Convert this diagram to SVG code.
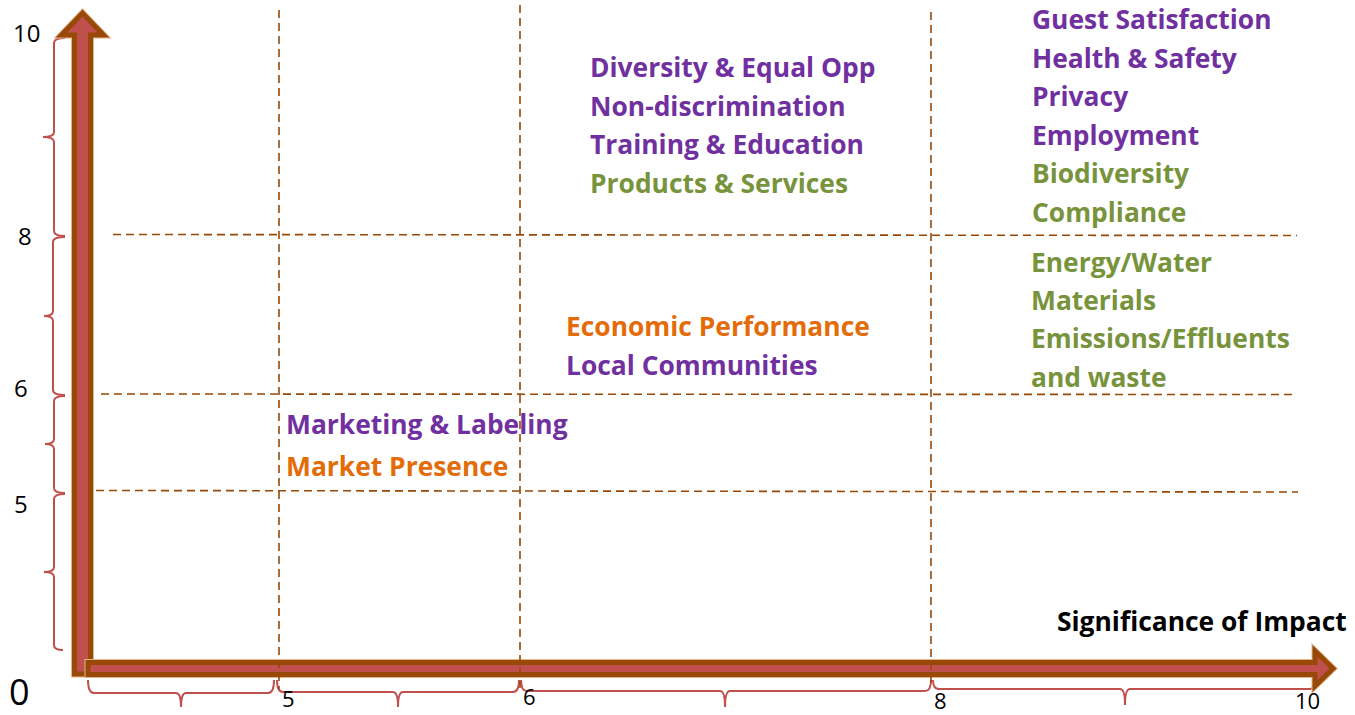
<svg xmlns="http://www.w3.org/2000/svg" width="1355" height="715" viewBox="0 0 1355 715">
<style>
.num{font-family:"Open Sans","Liberation Sans",sans-serif;font-size:24px;fill:#000}
.lbl{font-family:"Open Sans","Liberation Sans",sans-serif;font-weight:700;font-size:26.4px}
.p{fill:#7030A0}.g{fill:#77933C}.o{fill:#E36C09}
.grid{stroke:#984807;stroke-width:1.6;stroke-dasharray:8 5;fill:none}
.brace{stroke:#C0504D;stroke-width:2;fill:none}
.axis{fill:#C0504D;stroke:#984807;stroke-width:5;stroke-linejoin:miter}
.halo{fill:none;stroke:#E2B58C;stroke-width:7;stroke-linejoin:miter}
</style>
<rect width="1355" height="715" fill="#fff"/>
<g id="braces">
<path class="brace" d="M65,38 Q54,38 54,43 L54,132 Q54,137 43,137 Q54,137 54,142 L54,231 Q54,236 65,236"/>
<path class="brace" d="M65,237 Q53,237 53,242 L53,311 Q53,316 44,316 Q53,316 53,321 L53,390 Q53,395 65,395"/>
<path class="brace" d="M65,396 Q54,396 54,401 L54,439 Q54,444 45,444 Q54,444 54,449 L54,488 Q54,493 65,493"/>
<path class="brace" d="M65,494 Q54,494 54,499 L54,567 Q54,572 44,572 Q54,572 54,577 L54,645 Q54,650 63,650"/>
<path class="brace" d="M88,680 Q88,693 94,693 L176,693 Q181,693 181,707 Q181,693 186,693 L268,693 Q274,693 274,680"/>
<path class="brace" d="M277,680 Q277,692 283,692 L393,692 Q398,692 398,707 Q398,692 403,692 L513,692 Q519,692 519,680"/>
<path class="brace" d="M521,680 Q521,691 527,691 L720,691 Q725,691 725,707 Q725,691 730,691 L925,691 Q931,691 931,680"/>
<path class="brace" d="M933,680 Q933,689 939,689 L1120,689 Q1125,689 1125,705 Q1125,689 1130,689 L1310,689 Q1315,689 1315,680"/>
</g>
<g id="axes">
<path class="halo" d="M74.5,674 L74.5,35 L61.5,35 L82.5,13 L103.5,35 L90.5,35 L90.5,674 Z"/>
<path class="axis" d="M74.5,674 L74.5,35 L61.5,35 L82.5,13 L103.5,35 L90.5,35 L90.5,674 Z"/>
<path class="halo" d="M88,662.5 L1315,662.5 L1315,651 L1333,668.5 L1315,686 L1315,674.5 L88,674.5 Z"/>
<path class="axis" d="M88,662.5 L1315,662.5 L1315,651 L1333,668.5 L1315,686 L1315,674.5 L88,674.5 Z"/>
</g>
<g id="connectors">
<line class="grid" x1="279" y1="10" x2="279" y2="689"/>
<line class="grid" x1="520" y1="5" x2="520" y2="688"/>
<line class="grid" x1="931" y1="12" x2="931" y2="688"/>
<line class="grid" x1="113" y1="234.5" x2="1297" y2="235.5"/>
<line class="grid" x1="101" y1="394" x2="1293" y2="394.5"/>
<line class="grid" x1="96" y1="490.5" x2="1298" y2="492"/>
</g>
<g id="ticks">
<text class="num" x="13" y="42">10</text>
<text class="num" x="18" y="245">8</text>
<text class="num" x="14" y="397">6</text>
<text class="num" x="14" y="513">5</text>
<text class="num" x="9" y="705" style="font-size:36px">0</text>
<text class="num" x="282" y="707" style="font-size:22px">5</text>
<text class="num" x="523" y="705" style="font-size:22px">6</text>
<text class="num" x="934" y="709" style="font-size:22px">8</text>
<text class="num" x="1295" y="709" style="font-size:22px">10</text>
</g>
<g id="node-top-middle">
<text class="lbl p" x="590" y="77">Diversity &amp; Equal Opp</text>
<text class="lbl p" x="590" y="116">Non-discrimination</text>
<text class="lbl p" x="590" y="154">Training &amp; Education</text>
<text class="lbl g" x="590" y="193">Products &amp; Services</text>
</g>
<g id="node-top-right">
<text class="lbl p" x="1032" y="29">Guest Satisfaction</text>
<text class="lbl p" x="1032" y="68">Health &amp; Safety</text>
<text class="lbl p" x="1032" y="106">Privacy</text>
<text class="lbl p" x="1032" y="145">Employment</text>
<text class="lbl g" x="1032" y="183">Biodiversity</text>
<text class="lbl g" x="1032" y="222">Compliance</text>
</g>
<g id="node-mid-right">
<text class="lbl g" x="1031" y="272">Energy/Water</text>
<text class="lbl g" x="1031" y="310">Materials</text>
<text class="lbl g" x="1031" y="348">Emissions/Effluents</text>
<text class="lbl g" x="1031" y="387">and waste</text>
</g>
<g id="node-mid-center">
<text class="lbl o" x="566" y="336">Economic Performance</text>
<text class="lbl p" x="566" y="375">Local Communities</text>
</g>
<g id="node-low-left">
<text class="lbl p" x="286" y="434">Marketing &amp; Labeling</text>
<text class="lbl o" x="286" y="476">Market Presence</text>
</g>
<g id="axis-title">
<text class="lbl" x="1057" y="631" fill="#000">Significance of Impact</text>
</g>
</svg>
